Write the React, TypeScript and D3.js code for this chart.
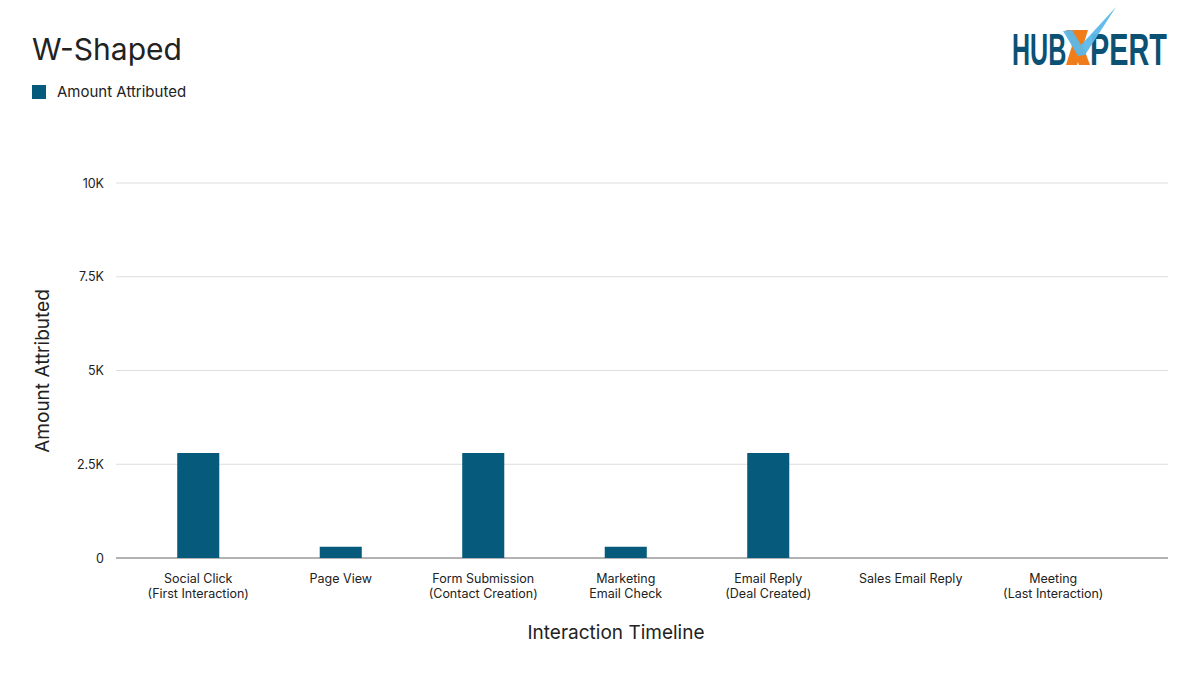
import React from "react";
import * as d3 from "d3";

const categories = [
  "Social Click\n(First Interaction)",
  "Page View",
  "Form Submission\n(Contact Creation)",
  "Marketing\nEmail Check",
  "Email Reply\n(Deal Created)",
  "Sales Email Reply",
  "Meeting\n(Last Interaction)",
];
const amountAttributed = [2800, 300, 2800, 300, 2800, 0, 0];
const yTicks = [0, 2500, 5000, 7500, 10000];
const yTickLabels = ["0", "2.5K", "5K", "7.5K", "10K"];

const W = 1200;
const H = 675;
const FONT = "Inter, 'Noto Sans', sans-serif";
const BAR = "#065a7c";
const TEXT = "#222";

export default function App() {
  const plotLeft = 116;
  const plotRight = 1168;
  const x = d3
    .scaleBand<string>()
    .domain(categories)
    .range([127, 1124.5])
    .paddingInner(0.705)
    .paddingOuter(0.3525);
  const y = d3.scaleLinear().domain([0, 10000]).range([558, 183]);

  return (
    <svg
      width={W}
      height={H}
      style={{ position: "absolute", left: 0, top: 0, background: "#fff" }}
      fontFamily={FONT}
    >
      <text x={32} y={60} fontSize={30} fill={TEXT}>
        W-Shaped
      </text>
      <rect x={32} y={85} width={14} height={14} fill={BAR} />
      <text x={57} y={97} fontSize={15} fill={TEXT}>
        Amount Attributed
      </text>

      {/* gridlines and y ticks */}
      {yTicks.map((t, i) => (
        <g key={t}>
          <line
            x1={plotLeft}
            x2={plotRight}
            y1={y(t)}
            y2={y(t)}
            stroke={t === 0 ? "#666" : "#ddd"}
            strokeWidth={1}
          />
          <text
            x={104}
            y={y(t) + 4.5}
            fontSize={12.5}
            fill={TEXT}
            textAnchor="end"
          >
            {yTickLabels[i]}
          </text>
        </g>
      ))}

      {/* bars */}
      {categories.map((c, i) =>
        amountAttributed[i] > 0 ? (
          <rect
            key={c}
            x={x(c)}
            y={y(amountAttributed[i])}
            width={x.bandwidth()}
            height={y(0) - y(amountAttributed[i])}
            fill={BAR}
          />
        ) : null
      )}

      {/* category labels */}
      {categories.map((c) => {
        const cx = (x(c) as number) + x.bandwidth() / 2;
        return (
          <text key={c} x={cx} y={583} fontSize={12.5} fill={TEXT} textAnchor="middle">
            {c.split("\n").map((line, j) => (
              <tspan key={j} x={cx} dy={j === 0 ? 0 : 15}>
                {line}
              </tspan>
            ))}
          </text>
        );
      })}

      {/* axis titles */}
      <text x={616} y={639} fontSize={19} fill={TEXT} textAnchor="middle">
        Interaction Timeline
      </text>
      <text
        transform={`translate(49,371) rotate(-90)`}
        fontSize={19}
        fill={TEXT}
        textAnchor="middle"
      >
        Amount Attributed
      </text>

      {/* logo */}
      <g fontFamily="'Liberation Sans', Arial, sans-serif" fontWeight="bold" fill="#0b5174">
        <text transform="translate(1012,65) scale(0.57,1)" fontSize={44}>
          HUB
        </text>
        <path d="M1066,30 L1077,30 L1090,65 L1079,65 Z" fill="#f07c1a" />
        <path d="M1088,30 L1077,65 L1066,65 L1077,30 Z" fill="#f07c1a" />
        <text transform="translate(1090,65) scale(0.655,1)" fontSize={44}>
          PERT
        </text>
        <path
          d="M1063,31 L1072,30 L1081,45 L1116,7 L1085,55 L1078,56 Z"
          fill="#5bb8e8"
          opacity={0.95}
        />
      </g>
    </svg>
  );
}
